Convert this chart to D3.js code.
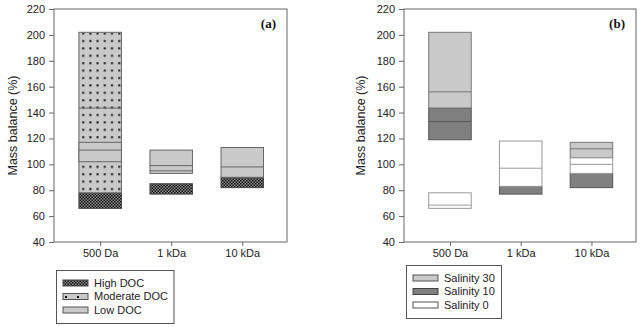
<!DOCTYPE html>
<html>
<head>
<meta charset="utf-8">
<script src="https://cdn.jsdelivr.net/npm/d3@7"></script>
<style>
  body { margin: 0; background: #fff; }
  svg { display: block; font-family: "Liberation Sans", Arial, sans-serif; }
</style>
</head>
<body>
<div id="chart"></div>
<script>
// floating boxes: [low, high, inner lines]
const categories = ["500 Da", "1 kDa", "10 kDa"];
const yTicks = [40, 60, 80, 100, 120, 140, 160, 180, 200, 220];

// panel (a) - DOC
const highDOC     = [[66, 78, []], [77, 85, []], [82, 90, []]];
const moderateDOC = [[78, 202, [143.5]], null, null];
const lowDOC      = [[102, 117, [111]], [93, 111, [99, 95]], [90, 113, [98]]];

// panel (b) - salinity
const salinity30 = [[143.5, 202, [156]], null, [105, 117, [112]]];
const salinity10 = [[119, 143.5, [133]], [77, 83, []], [82, 93, []]];
const salinity0  = [[66, 78, [68.5]], [83, 118, [97]], [93, 105, [100]]];

const W = 640, H = 327;
const svg = d3.select("#chart").append("svg").attr("width", W).attr("height", H);

const defs = svg.append("defs");
// crosshatch (checker) pattern
const ch = defs.append("pattern").attr("id", "hatch").attr("patternUnits", "userSpaceOnUse")
  .attr("width", 3).attr("height", 3);
ch.append("rect").attr("width", 3).attr("height", 3).attr("fill", "#8a8a8a");
ch.append("rect").attr("width", 1.5).attr("height", 1.5).attr("fill", "#111");
ch.append("rect").attr("x", 1.5).attr("y", 1.5).attr("width", 1.5).attr("height", 1.5).attr("fill", "#111");
// dotted pattern
const dp = defs.append("pattern").attr("id", "dots").attr("patternUnits", "userSpaceOnUse")
  .attr("width", 7.2).attr("height", 7.4);
dp.append("rect").attr("width", 7.2).attr("height", 7.4).attr("fill", "#c9c9c9");
dp.append("rect").attr("x", 3).attr("y", 3).attr("width", 2).attr("height", 2).attr("fill", "#111");
const dpl = defs.append("pattern").attr("id", "dotsLegend").attr("patternUnits", "userSpaceOnUse")
  .attr("width", 12).attr("height", 6);
dpl.append("rect").attr("width", 12).attr("height", 6).attr("fill", "#c9c9c9");
dpl.append("rect").attr("x", 5).attr("y", 2).attr("width", 2).attr("height", 2).attr("fill", "#111");

function drawPanel(p) {
  const x = d3.scaleLinear().domain([-0.65, 2.63]).range([p.left, p.right]);
  const y = d3.scaleLinear().domain([40, 220]).range([242, 9]);
  const g = svg.append("g");
  const bw = 42.5;

  p.series.forEach(s => {
    s.data.forEach((d, i) => {
      if (!d) return;
      const cx = x(i);
      g.append("rect")
        .attr("x", cx - bw / 2).attr("y", y(d[1]))
        .attr("width", bw).attr("height", y(d[0]) - y(d[1]))
        .attr("fill", s.fill).attr("stroke", s.stroke).attr("stroke-width", 1);
      d[2].forEach(v => {
        g.append("line")
          .attr("x1", cx - bw / 2).attr("x2", cx + bw / 2)
          .attr("y1", y(v)).attr("y2", y(v))
          .attr("stroke", s.stroke).attr("stroke-width", 1);
      });
    });
  });

  // frame
  g.append("rect").attr("x", p.left).attr("y", 9)
    .attr("width", p.right - p.left).attr("height", 233)
    .attr("fill", "none").attr("stroke", "#666").attr("stroke-width", 1);

  const yAxis = g.append("g").attr("transform", `translate(${p.left},0)`)
    .call(d3.axisLeft(y).tickValues(yTicks).tickSize(5).tickPadding(4));
  yAxis.select(".domain").remove();
  yAxis.selectAll("line").attr("stroke", "#666");
  yAxis.selectAll("text").attr("font-size", 11).attr("fill", "#222").attr("font-family", "Liberation Sans, Arial, sans-serif");

  const xAxis = g.append("g").attr("transform", `translate(0,242)`)
    .call(d3.axisBottom(x).tickValues([0, 1, 2]).tickFormat(i => categories[i]).tickSize(4).tickPadding(3));
  xAxis.select(".domain").remove();
  xAxis.selectAll("line").attr("stroke", "#666");
  xAxis.selectAll("text").attr("font-size", 11).attr("fill", "#222").attr("font-family", "Liberation Sans, Arial, sans-serif");

  g.append("text")
    .attr("transform", `translate(${p.yLabelX},${(9 + 242) / 2}) rotate(-90)`)
    .attr("text-anchor", "middle").attr("dy", "0.35em")
    .attr("font-size", 12.5).attr("fill", "#222")
    .text("Mass balance (%)");

  g.append("text")
    .attr("x", p.right - 11).attr("y", 28).attr("text-anchor", "end")
    .attr("font-family", "Liberation Serif, Times New Roman, serif")
    .attr("font-weight", "bold").attr("font-size", 13).attr("fill", "#111")
    .text(p.tag);

  // legend
  const lg = g.append("g");
  lg.append("rect").attr("x", p.legend.x).attr("y", p.legend.y)
    .attr("width", p.legend.w).attr("height", p.legend.h)
    .attr("fill", "#fff").attr("stroke", "#555").attr("stroke-width", 1);
  p.legendItems.forEach((it, i) => {
    const ry = p.legend.y + 12.5 + i * 13.5;
    lg.append("rect").attr("x", p.legend.x + 6.5).attr("y", ry - 3)
      .attr("width", 25).attr("height", 6)
      .attr("fill", it.fill).attr("stroke", it.stroke).attr("stroke-width", 1);
    lg.append("text").attr("x", p.legend.x + 37.5).attr("y", ry).attr("dy", "0.35em")
      .attr("font-size", 11).attr("fill", "#222").text(it.label);
  });
}

drawPanel({
  left: 54, right: 287, yLabelX: 13, tag: "(a)",
  series: [
    { data: highDOC, fill: "url(#hatch)", stroke: "#444" },
    { data: moderateDOC, fill: "url(#dots)", stroke: "#666" },
    { data: lowDOC, fill: "#c9c9c9", stroke: "#666" }
  ],
  legend: { x: 56.5, y: 270.5, w: 117.5, h: 53 },
  legendItems: [
    { label: "High DOC", fill: "url(#hatch)", stroke: "#444" },
    { label: "Moderate DOC", fill: "url(#dotsLegend)", stroke: "#555" },
    { label: "Low DOC", fill: "#c9c9c9", stroke: "#555" }
  ]
});

drawPanel({
  left: 404, right: 636, yLabelX: 361, tag: "(b)",
  series: [
    { data: salinity10, fill: "#808080", stroke: "#555" },
    { data: salinity30, fill: "#c9c9c9", stroke: "#777" },
    { data: salinity0, fill: "#ffffff", stroke: "#999" }
  ],
  legend: { x: 406.5, y: 265.5, w: 95, h: 53 },
  legendItems: [
    { label: "Salinity 30", fill: "#c9c9c9", stroke: "#555" },
    { label: "Salinity 10", fill: "#808080", stroke: "#444" },
    { label: "Salinity 0", fill: "#ffffff", stroke: "#555" }
  ]
});
</script>
</body>
</html>
